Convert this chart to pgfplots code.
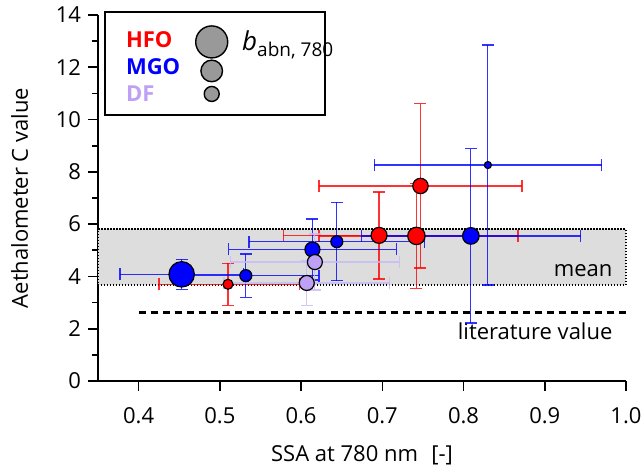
\documentclass[border=0pt]{standalone}
\usepackage{fontspec}
\setmainfont{Open Sans}
\usepackage{pgfplots}
\usepackage{pgfplotstable}
\pgfplotsset{compat=1.18}

\definecolor{hfo}{RGB}{255,0,0}
\definecolor{mgo}{RGB}{0,0,255}
\definecolor{df}{RGB}{190,160,245}
\definecolor{dfbar}{RGB}{200,185,245}
\definecolor{band}{RGB}{221,221,221}

% x, y, marker radius (pt), x/y error bars (plus/minus)
\pgfplotstableread{
x     y     r     xp     xm     yp    ym
0.510 3.70  2.5   0.088  0.085  0.80  0.80
0.696 5.57  4.0   0.115  0.118  1.66  1.67
0.742 5.55  4.35  0.125  0.120  2.00  2.00
0.747 7.46  3.85  0.125  0.125  3.14  3.14
}\hfodata

\pgfplotstableread{
x     y     r     xp     xm     yp    ym
0.453 4.08  6.35  0.076  0.076  0.58  0.58
0.532 4.03  3.0   0.090  0.090  0.83  0.83
0.614 5.03  3.75  0.103  0.103  1.17  1.17
0.644 5.33  3.0   0.108  0.108  1.50  1.50
0.809 5.55  4.15  0.135  0.135  3.33  3.33
0.830 8.26  1.75  0.140  0.140  4.59  4.59
}\mgodata

\pgfplotstableread{
x     y     r     xp     xm     yp    ym
0.607 3.75  3.75  0.102  0.102  0.85  0.85
0.617 4.55  3.75  0.104  0.104  1.07  1.07
}\dfdata

\pgfplotsset{
  sized marks/.style={
    scatter, only marks, mark=*,
    scatter/use mapped color={draw=black, fill=#1},
    mark options={line width=0.6pt},
    visualization depends on={\thisrow{r}\as\rad},
    scatter/@pre marker code/.append style={/tikz/mark size=\rad},
  },
  bars/.style={
    error bars/.cd,
      x dir=both, x explicit, y dir=both, y explicit,
      error bar style={#1, line width=0.6pt, opacity=0.8},
      error mark options={rotate=90, mark size=3pt, line width=0.6pt, #1, opacity=0.8},
  },
}

\begin{document}
\begin{tikzpicture}[font=\fontsize{11}{13.2}\selectfont]
\begin{axis}[
  name=ax,
  scale only axis,
  width=264pt, height=183pt,
  xmin=0.35, xmax=1.0, ymin=0, ymax=14,
  axis x line*=bottom, axis y line*=left,
  axis line style={-, line width=0.8pt},
  tick align=outside,
  major tick length=5pt, minor tick length=3pt,
  tick style={line width=0.8pt, black},
  xtick={0.4,0.5,0.6,0.7,0.8,0.9,1.0},
  ytick={0,2,...,14},
  minor y tick num=1,
  /pgf/number format/assume math mode=true,
  xticklabel style={/pgf/number format/.cd, fixed, fixed zerofill, precision=1, /tikz/.cd, yshift=-4.5pt},
  yticklabel style={/pgf/number format/fixed},
  xlabel={SSA at 780 nm\hspace{0.6em}[-]},
  ylabel={Aethalometer C value},
  xlabel style={at={(axis description cs:0.5,0)}, anchor=base, yshift=-40.5pt},
  ylabel style={at={(axis description cs:0,0.5)}, anchor=base, yshift=35pt},
  clip=false,
]
% mean band
\addplot[draw=black, line width=1pt, dash pattern=on 0.7pt off 0.8pt, fill=band]
  coordinates {(0.35,3.67) (1.0,3.67) (1.0,5.80) (0.35,5.80)} -- cycle;
\node[anchor=base east] at (axis cs:0.992,3.98) {mean};

% literature value
\addplot[black, line width=1.7pt, dash pattern=on 3.6pt off 2.4pt]
  coordinates {(0.40,2.62) (1.0,2.62)};
\node[anchor=base east] at (axis cs:0.992,1.57) {literature value};

% data
\addplot[hfo, sized marks=hfo, bars=hfo]
  table[x=x, y=y, x error plus=xp, x error minus=xm, y error plus=yp, y error minus=ym] {\hfodata};
\addplot[mgo, sized marks=mgo, bars=mgo]
  table[x=x, y=y, x error plus=xp, x error minus=xm, y error plus=yp, y error minus=ym] {\mgodata};
\addplot[df, sized marks=df, bars=dfbar]
  table[x=x, y=y, x error plus=xp, x error minus=xm, y error plus=yp, y error minus=ym] {\dfdata};

% key
\draw[line width=1pt, fill=white] (axis cs:0.359,14.12) rectangle (axis cs:0.630,10.18);
\node[anchor=base west, text=hfo, font=\fontsize{11}{13.2}\selectfont\bfseries, inner sep=0pt] at (axis cs:0.384,12.74) {HFO};
\node[anchor=base west, text=mgo, font=\fontsize{11}{13.2}\selectfont\bfseries, inner sep=0pt] at (axis cs:0.384,11.71) {MGO};
\node[anchor=base west, text=df, font=\fontsize{11}{13.2}\selectfont\bfseries, inner sep=0pt] at (axis cs:0.384,10.68) {DF};
\addplot[only marks, mark=*, mark size=8pt, mark options={draw=black, fill=black!40, line width=0.7pt}]
  coordinates {(0.490,12.97)};
\addplot[only marks, mark=*, mark size=5.4pt, mark options={draw=black, fill=black!40, line width=0.7pt}]
  coordinates {(0.490,11.86)};
\addplot[only marks, mark=*, mark size=3.75pt, mark options={draw=black, fill=black!40, line width=0.7pt}]
  coordinates {(0.490,10.98)};
\node[anchor=base west, inner sep=0pt, font=\fontsize{13}{15}\selectfont] at (axis cs:0.527,12.66)
  {\textit{b}\raisebox{-0.45ex}{\fontsize{9.5}{11}\selectfont abn, 780}};
\end{axis}
\pgfresetboundingbox
\path ([shift={(-49pt,-44.5pt)}]ax.south west) rectangle ([shift={(272.5pt,190.5pt)}]ax.south west);
\end{tikzpicture}
\end{document}
